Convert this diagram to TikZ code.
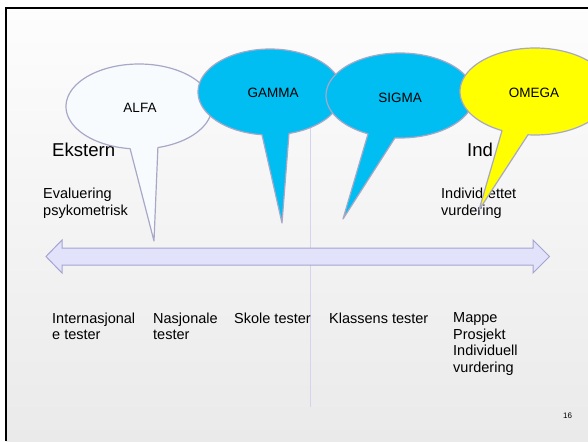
\documentclass[tikz,border=0pt]{standalone}
\usepackage{fontspec}
\setmainfont{Liberation Sans}
\definecolor{bgtop}{HTML}{FDFDFD}
\definecolor{bgbot}{HTML}{EAEAEA}
\definecolor{bubbleline}{HTML}{A8A8C6}
\definecolor{alfafill}{HTML}{F7FBFE}
\definecolor{cyanfill}{HTML}{00BEF2}
\definecolor{yellowfill}{HTML}{FFFF00}
\definecolor{arrowfill}{HTML}{E2E2FA}
\definecolor{arrowline}{HTML}{A4A4D2}
\definecolor{vline}{HTML}{D4D4EE}
\begin{document}
\begin{tikzpicture}[x=1pt,y=-1pt,
  bubble/.style={draw=bubbleline, line width=1.2pt, line join=round},
  lbl/.style={inner sep=0pt, anchor=north west, align=left, font=\fontsize{14.5}{16.5}\selectfont},
  big/.style={inner sep=0pt, anchor=north west, font=\fontsize{18.6}{22}\selectfont},
  blab/.style={inner sep=0pt, font=\fontsize{13.5}{16}\selectfont}]
\useasboundingbox (0,0) rectangle (588,441);
\clip (0,0) rectangle (588,441);
\fill[white] (0,0) rectangle (588,441);
\shade[top color=bgtop, bottom color=bgbot] (6,8) rectangle (588,441);
\draw[line width=2pt] (6.3,441) -- (6.3,7.9) -- (588,7.9);
% vertical divider
\coordinate (vtop) at (310,100);
\coordinate (vbot) at (310,407);
\draw[vline, line width=0.8pt] (vtop) -- (vbot);
% double arrow
\draw[fill=arrowfill, draw=arrowline, line width=1pt, line join=miter]
  (46,256.5) -- (62,240) -- (62,248) -- (533,248) -- (533,240) -- (549.5,256.5)
  -- (533,273) -- (533,265) -- (62,265) -- (62,273) -- cycle;
% texts
\node[big] (ekstern) at (52,143) {Ekstern};
\node[big] (ind) at (467,143) {Ind};
\node[lbl] (evaluering) at (43,188) {Evaluering\\psykometrisk};
\node[lbl] (individ) at (441,188) {Individrettet\\vurdering};
\node[lbl] (internasjonal) at (52,312.5) {Internasjonal\\e tester};
\node[lbl] (nasjonale) at (153,312.5) {Nasjonale\\tester};
\node[lbl] (skole) at (234,312.5) {Skole tester};
\node[lbl] (klassens) at (329,312.5) {Klassens tester};
\node[lbl] (mappe) at (453,312.5) {Mappe\\Prosjekt\\Individuell\\vurdering};
\node[inner sep=0pt, font=\fontsize{8}{9}\selectfont] (page) at (567.5,415.5) {16};
% callouts
\draw[bubble, fill=alfafill] plot[domain=75:-263, samples=120]
  ({139+73*cos(\x)},{106.5+42.5*sin(\x)}) -- (154,241) -- cycle;
\node[blab] (alfa) at (140,108) {ALFA};
\draw[bubble, fill=cyanfill] plot[domain=74.7:-263.6, samples=120]
  ({270+72*cos(\x)},{92+43*sin(\x)}) -- (282,223) -- cycle;
\node[blab] (gamma) at (273,93) {GAMMA};
\draw[bubble, fill=cyanfill] plot[domain=93.9:-244.4, samples=120]
  ({400+74*cos(\x)},{95.5+42.5*sin(\x)}) -- (343,219) -- cycle;
\node[blab] (sigma) at (400,98) {SIGMA};
\draw[bubble, fill=yellowfill] plot[domain=95.4:-243.9, samples=120]
  ({535+75*cos(\x)},{91.5+43.5*sin(\x)}) -- (479,210) -- cycle;
\node[blab] (omega) at (534,93) {OMEGA};
\end{tikzpicture}
\end{document}
